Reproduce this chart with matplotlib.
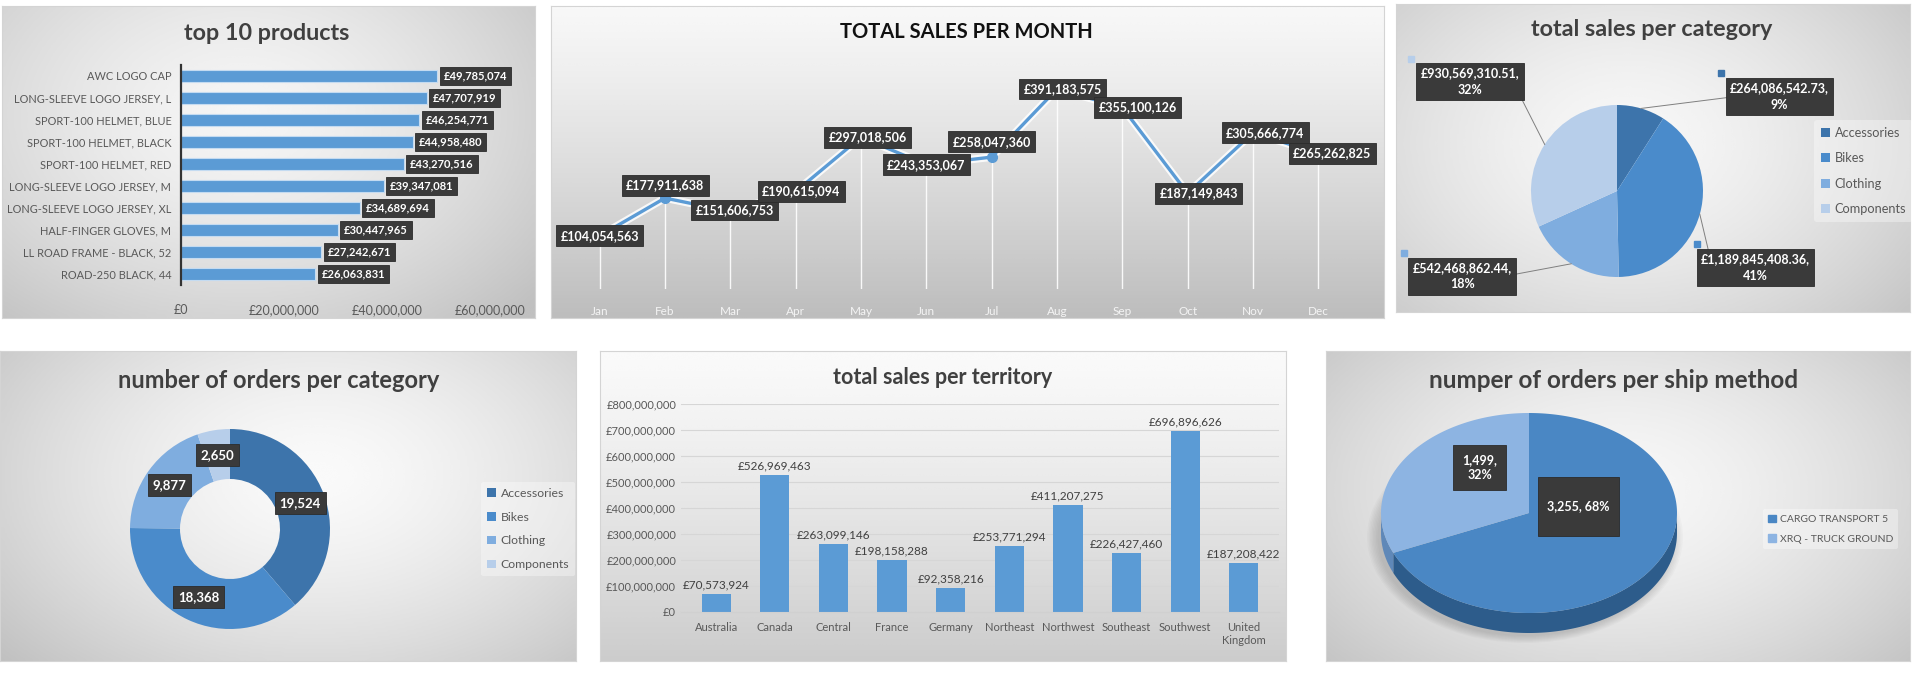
import numpy as np
import matplotlib.pyplot as plt
from matplotlib.patches import Polygon, Ellipse, Patch

plt.rcParams['font.family'] = ['Lato', 'DejaVu Sans']

W, H = 1920, 675

# ---- data
products = ['AWC LOGO CAP', 'LONG-SLEEVE LOGO JERSEY, L', 'SPORT-100 HELMET, BLUE',
            'SPORT-100 HELMET, BLACK', 'SPORT-100 HELMET, RED', 'LONG-SLEEVE LOGO JERSEY, M',
            'LONG-SLEEVE LOGO JERSEY, XL', 'HALF-FINGER GLOVES, M', 'LL ROAD FRAME - BLACK, 52',
            'ROAD-250 BLACK, 44']
product_sales = [49785074, 47707919, 46254771, 44958480, 43270516,
                 39347081, 34689694, 30447965, 27242671, 26063831]

months = ['Jan', 'Feb', 'Mar', 'Apr', 'May', 'Jun', 'Jul', 'Aug', 'Sep', 'Oct', 'Nov', 'Dec']
month_sales = [104054563, 177911638, 151606753, 190615094, 297018506, 243353067,
               258047360, 391183575, 355100126, 187149843, 305666774, 265262825]

categories = ['Accessories', 'Bikes', 'Clothing', 'Components']
category_sales = [264086542.73, 1189845408.36, 542468862.44, 930569310.51]
category_orders = [19524, 18368, 9877, 2650]

territories = ['Australia', 'Canada', 'Central', 'France', 'Germany', 'Northeast',
               'Northwest', 'Southeast', 'Southwest', 'United\nKingdom']
territory_sales = [70573924, 526969463, 263099146, 198158288, 92358216, 253771294,
                   411207275, 226427460, 696896626, 187208422]

ship_methods = ['CARGO TRANSPORT 5', 'XRQ - TRUCK GROUND']
ship_orders = [3255, 1499]

# ---- styling
BLUE = '#5B9BD5'
CAT_COLORS = ['#3D74AB', '#4A8BCB', '#7FADDF', '#B7CEEA']
TXT = '#404040'
LBL = dict(boxstyle='square,pad=0.35', fc='#3a3a3a', ec='#2b2b2b', lw=0.6)


def gbp(v, _=None):
    return f'£{v:,.0f}'


def pct(values):
    # percentages rounded so they add up to 100, like the spreadsheet does
    p = np.asarray(values, float) / np.sum(values) * 100
    out = np.floor(p)
    order = np.argsort(-(p - out))
    out[order[:int(round(100 - out.sum()))]] += 1
    return out.astype(int)


def box(x0, y0, x1, y1):
    # pixel box, origin top-left -> figure fraction
    return [x0 / W, 1 - y1 / H, (x1 - x0) / W, (y1 - y0) / H]


fig = plt.figure(figsize=(W / 100, H / 100), dpi=100)
fig.patch.set_facecolor('white')


def panel(x0, y0, x1, y1, cx=0.5, cy=0.45, light=0.97, dark=0.74, mode='radial'):
    ax = fig.add_axes(box(x0, y0, x1, y1))
    yy, xx = np.mgrid[0:1:160j, 0:1:240j]
    if mode == 'vertical':
        t = yy ** 1.2
    else:
        t = np.clip(np.hypot((xx - cx) / 0.75, (yy - cy) / 0.9), 0, 1) ** 1.5
    ax.imshow(light - (light - dark) * t, cmap='gray', vmin=0, vmax=1,
              extent=(0, 1, 0, 1), aspect='auto', interpolation='bicubic')
    ax.set_xticks([])
    ax.set_yticks([])
    for s in ax.spines.values():
        s.set_color('#d4d4d4')
    return ax


def title(x, y, s, size, color=TXT):
    fig.text(x / W, 1 - y / H, s, ha='center', va='center', fontsize=size,
             fontweight='bold', color=color)


def circle_axes(cx, cy, r, xr, yr):
    return fig.add_axes(box(cx + xr[0] * r, cy - yr[1] * r, cx + xr[1] * r, cy - yr[0] * r))


def fix_circle(ax, xr, yr):
    ax.axis('off')
    ax.set_xlim(*xr)
    ax.set_ylim(*yr)


def mid_angles(values):
    fr = np.asarray(values, float) / np.sum(values)
    start = 90 - 360 * np.concatenate([[0], np.cumsum(fr)[:-1]])
    return start, start - 360 * fr


def legend(ax, handles, labels, x, y, spacing=1.15, size=7.5):
    ax.legend(handles, labels, loc='center left', bbox_to_anchor=(x / W, 1 - y / H),
              bbox_transform=fig.transFigure, frameon=True, facecolor='white', framealpha=0.35,
              edgecolor='none', fontsize=size, labelcolor='#595959', handlelength=0.7,
              handleheight=0.7, handletextpad=0.4, labelspacing=spacing, borderpad=0.5)


# ================= top 10 products
panel(2, 6, 535, 318, cx=0.45, cy=0.35, light=0.96, dark=0.75)
title(267, 34, 'top 10 products', 16.8)
ax1 = fig.add_axes(box(181, 65, 490, 285))
ax1.patch.set_alpha(0)
pos = np.arange(len(products))
ax1.barh(pos, product_sales, height=0.56, color=BLUE, edgecolor='#c4dbf1', linewidth=0.8)
ax1.set_ylim(len(products) - 0.5, -0.5)
ax1.set_xlim(0, 60e6)
ax1.set_xticks([0, 20e6, 40e6, 60e6])
ax1.xaxis.set_major_formatter(gbp)
ax1.set_yticks(pos, products)
ax1.tick_params(length=0, labelsize=9, labelcolor='#595959')
ax1.tick_params(axis='y', pad=7, labelsize=7.9)
ax1.tick_params(axis='x', pad=14)
for s in ['top', 'right', 'bottom']:
    ax1.spines[s].set_visible(False)
ax1.spines['left'].set_color('#333333')
ax1.spines['left'].set_linewidth(1.6)
for p, v in zip(pos, product_sales):
    ax1.text(v + 1.2e6, p, gbp(v), ha='left', va='center', fontsize=8,
             fontweight='bold', color='white', bbox=LBL)

# ================= total sales per month
panel(551, 6, 1384, 318, light=0.97, dark=0.74, mode='vertical')
title(966, 32, 'TOTAL SALES PER MONTH', 14.5, color='#111111')
ax2 = fig.add_axes(box(567, 59, 1351, 289))
ax2.patch.set_alpha(0)
xm = np.arange(len(months))
ax2.vlines(xm, 0, month_sales, color='white', lw=1.0, alpha=0.9)
ax2.plot(xm, month_sales, color='white', lw=5.5, alpha=0.85, solid_capstyle='round')
ax2.plot(xm, month_sales, color=BLUE, lw=2.4, marker='o', ms=7, mec=BLUE)
ax2.set_xlim(-0.5, len(months) - 0.5)
ax2.set_ylim(0, 450e6)
ax2.set_xticks(xm, months)
ax2.set_yticks([])
ax2.tick_params(length=0, labelsize=8.5, labelcolor='#f4f4f4', pad=12)
for s in ax2.spines.values():
    s.set_visible(False)
dx = [0, 0, 3, 4, 5, 0, 0, 4, 11, 8, 9, 10]
dy = [0, 9, 1, 0, 0, 0, 11, 0, 0, 0, 0, 0]
for i, v in enumerate(month_sales):
    ax2.annotate(gbp(v), (i, v), xytext=(dx[i], dy[i]), textcoords='offset points',
                 ha='center', va='center', fontsize=9, fontweight='bold', color='white', bbox=LBL)

# ================= total sales per category
panel(1396, 4, 1910, 312, cx=0.45, cy=0.45, light=0.97, dark=0.76)
title(1652, 30, 'total sales per category', 16.8)
xr3, yr3 = (-2.6, 3.4), (-1.6, 2.1)
ax3 = circle_axes(1617, 191, 86, xr3, yr3)
st, en = mid_angles(category_sales)
share = pct(category_sales)
wedges, _ = ax3.pie(category_sales, colors=CAT_COLORS, startangle=90, counterclock=False,
                    radius=1, frame=True, wedgeprops=dict(lw=0))
fix_circle(ax3, xr3, yr3)
lbl_pos = [(1.89, 1.1), (1.61, -0.89), (-1.8, -0.99), (-1.71, 1.27)]
for i, v in enumerate(category_sales):
    m = np.radians((st[i] + en[i]) / 2)
    lx, ly = lbl_pos[i]
    ax3.plot([np.cos(m), lx - 0.5 * np.sign(lx)], [np.sin(m), ly], color='#7f7f7f', lw=0.7)
    ax3.text(lx, ly, f'£{v:,.2f},\n{share[i]}%', ha='center', va='center', fontsize=9,
             fontweight='bold', color='white', linespacing=1.45, bbox=dict(LBL, pad=0.6))
    ax3.plot(lx - 0.68, ly + 0.27, 's', ms=4.5, color=CAT_COLORS[i])
legend(ax3, wedges, categories, 1808, 171, spacing=1.05, size=9.2)

# ================= number of orders per category
panel(0, 351, 576, 661, cx=0.55, cy=0.4, light=0.98, dark=0.75)
title(279, 380, 'number of orders per category', 17)
xr4, yr4 = (-1.3, 3.4), (-1.3, 1.3)
ax4 = circle_axes(230, 529, 100, xr4, yr4)
st, en = mid_angles(category_orders)
wedges, _ = ax4.pie(category_orders, colors=CAT_COLORS, startangle=90, counterclock=False,
                    radius=1, frame=True, wedgeprops=dict(width=0.5, lw=0))
fix_circle(ax4, xr4, yr4)
for i, v in enumerate(category_orders):
    m = np.radians((st[i] + en[i]) / 2)
    ax4.text(0.75 * np.cos(m), 0.75 * np.sin(m), f'{v:,}', ha='center', va='center',
             fontsize=9.5, fontweight='bold', color='white', bbox=LBL)
legend(ax4, wedges, categories, 475, 529, spacing=1.05, size=8.8)

# ================= total sales per territory
panel(600, 351, 1286, 661, light=0.98, dark=0.80, mode='vertical')
title(943, 377, 'total sales per territory', 15.5)
ax5 = fig.add_axes(box(681, 404, 1279, 612))
ax5.patch.set_alpha(0)
xt = np.arange(len(territories))
ax5.bar(xt, territory_sales, width=0.5, color=BLUE)
ax5.set_xlim(-0.6, len(territories) - 0.4)
ax5.set_ylim(0, 800e6)
ax5.set_yticks(np.arange(0, 800e6 + 1, 100e6))
ax5.yaxis.set_major_formatter(gbp)
ax5.set_xticks(xt, territories)
ax5.grid(axis='y', color='#d6d6d6', lw=0.8)
ax5.set_axisbelow(True)
ax5.tick_params(length=0, labelsize=8, labelcolor='#595959')
ax5.tick_params(axis='x', pad=7)
for s in ['top', 'right', 'left']:
    ax5.spines[s].set_visible(False)
ax5.spines['bottom'].set_color('#d0d0d0')
for i, v in enumerate(territory_sales):
    ax5.text(i, v + 14e6, gbp(v), ha='center', va='bottom', fontsize=8.5, color=TXT)

# ================= number of orders per ship method (3-D pie)
panel(1326, 351, 1910, 661, cx=0.5, cy=0.45, light=0.97, dark=0.74)
title(1614, 380, 'numper of orders per ship method', 17.5)
ax6 = fig.add_axes(box(1326, 351, 1910, 661))
ax6.set_xlim(1326, 1910)
ax6.set_ylim(661, 351)
ax6.axis('off')
cx, cy, rx, ry, depth = 1529, 513, 148, 100, 20
top_cols = ['#4A87C4', '#8DB4E2']
side_cols = ['#2D5C8B', '#5F88B8']
for k in range(8):
    ax6.add_patch(Ellipse((cx - 4, cy + depth + 4), 2 * rx + 20 - 3 * k, 2 * ry + 12 - 2 * k,
                          color='black', alpha=0.018, lw=0))
st, en = mid_angles(ship_orders)
share = pct(ship_orders)
for i in range(len(ship_orders)):
    t = np.radians(np.linspace(en[i], st[i], 300))
    front = t[np.sin(t) <= 0]
    if len(front):
        ex, ey = cx + rx * np.cos(front), cy - ry * np.sin(front)
        pts = np.column_stack([np.r_[ex, ex[::-1]], np.r_[ey, ey[::-1] + depth]])
        ax6.add_patch(Polygon(pts, closed=True, fc=side_cols[i], ec='none'))
for i in range(len(ship_orders)):
    t = np.radians(np.linspace(st[i], en[i], 300))
    pts = np.column_stack([np.r_[cx, cx + rx * np.cos(t)], np.r_[cy, cy - ry * np.sin(t)]])
    ax6.add_patch(Polygon(pts, closed=True, fc=top_cols[i], ec='none'))
ship_lbl = ['\n{:,}, {}%\n', '{:,},\n{}%']
lift = [-34, -18]
for i, v in enumerate(ship_orders):
    m = np.radians((st[i] + en[i]) / 2)
    ax6.text(cx + 0.4 * rx * np.cos(m), cy - 0.5 * ry * np.sin(m) + lift[i],
             ship_lbl[i].format(v, share[i]), ha='center', va='center', fontsize=9,
             fontweight='bold', color='white', linespacing=1.25,
             bbox=dict(LBL, boxstyle='square,pad=0.75'))
handles = [Patch(color=c) for c in top_cols]
legend(ax6, handles, ship_methods, 1758, 529, spacing=1.0)

fig.savefig('out.png', dpi=100, facecolor='white')
